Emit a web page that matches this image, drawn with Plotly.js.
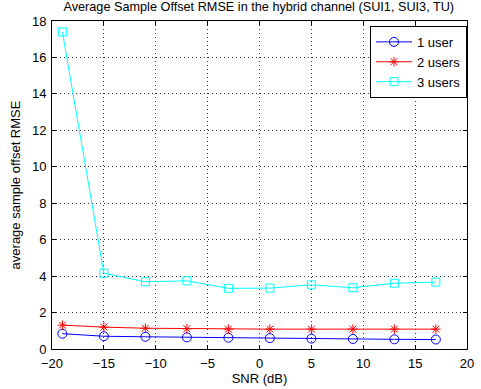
<!DOCTYPE html>
<html><head><meta charset="utf-8">
<script src="https://cdn.plot.ly/plotly-3.0.1.min.js"></script>
<style>body{margin:0;background:#fff}#c{width:481px;height:389px}</style>
</head><body><div id="c"></div>
<script>
const snr = [-19, -15, -11, -7, -3, 1, 5, 9, 13, 17];
const user1 = [0.84, 0.70, 0.67, 0.64, 0.62, 0.60, 0.57, 0.55, 0.53, 0.52];
const user2 = [1.31, 1.20, 1.14, 1.11, 1.09, 1.09, 1.09, 1.09, 1.09, 1.09];
const user3 = [17.4, 4.16, 3.69, 3.74, 3.33, 3.34, 3.52, 3.36, 3.61, 3.67];
const names = ['1 user', '2 users', '3 users'];

const F = 'Liberation Sans';
const traces = [
  {x: snr, y: user1, name: names[0], mode: 'lines+markers',
   line: {color: '#0000ff', width: 1}, marker: {symbol: 'circle-open', size: 9, color: '#0000ff', line: {width: 1}}},
  {x: snr, y: user2, name: names[1], mode: 'lines+markers',
   line: {color: '#ff0000', width: 1}, marker: {symbol: 'asterisk-open', size: 8, color: '#ff0000', line: {width: 1}}},
  {x: snr, y: user3, name: names[2], mode: 'lines+markers',
   line: {color: '#00ffff', width: 1}, marker: {symbol: 'square-open', size: 8, color: '#00ffff', line: {width: 1}}}
];

const axisCommon = {
  showline: true, mirror: 'ticks', linecolor: '#000', linewidth: 1,
  ticks: 'inside', ticklen: 4, tickcolor: '#000',
  showgrid: true, gridcolor: '#333', griddash: '1px,3px', gridwidth: 1,
  zeroline: false, tickfont: {family: F, size: 13, color: '#000'}
};

const layout = {
  width: 481, height: 389,
  margin: {l: 52, r: 14, t: 21, b: 40},
  paper_bgcolor: '#fff', plot_bgcolor: '#fff',
  title: {text: 'Average Sample Offset RMSE in the hybrid channel (SUI1, SUI3, TU)',
          font: {family: F, size: 12.7, color: '#000'}, x: 0.538, xanchor: 'center', y: 0.994, yanchor: 'top'},
  xaxis: Object.assign({}, axisCommon, {range: [-20, 20], dtick: 5, ticklabelstandoff: 2,
          title: {text: 'SNR (dB)', font: {family: F, size: 13, color: '#000'}, standoff: 0}}),
  yaxis: Object.assign({}, axisCommon, {range: [0, 18], dtick: 2, ticklabelstandoff: 2,
          title: {text: 'average sample offset RMSE', font: {family: F, size: 13, color: '#000'}, standoff: 8}}),
  showlegend: true,
  legend: {x: 1.0, xanchor: 'right', y: 0.985, yanchor: 'top', bgcolor: '#fff', bordercolor: '#000', borderwidth: 1,
           font: {family: F, size: 13, color: '#000'}, tracegroupgap: 0, itemwidth: 36}
};

Plotly.newPlot('c', traces, layout, {displayModeBar: false, staticPlot: true});
</script></body></html>
